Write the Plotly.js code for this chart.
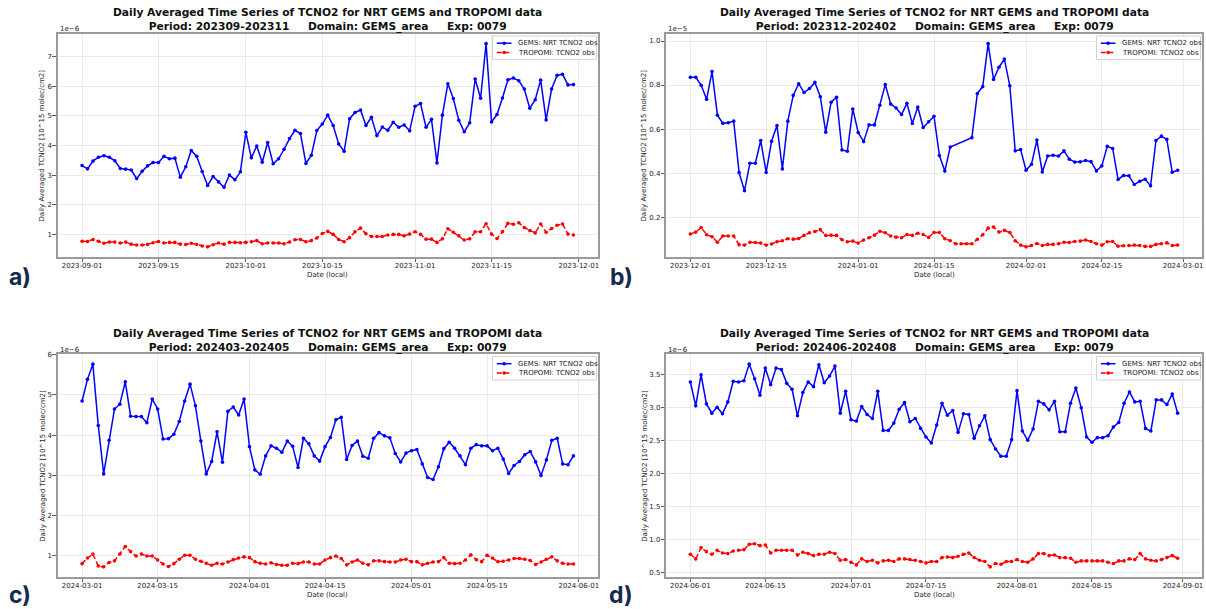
<!DOCTYPE html>
<html>
<head>
<meta charset="utf-8">
<script src="https://cdn.plot.ly/plotly-3.0.1.min.js"></script>
<style>
  html, body { margin: 0; padding: 0; background: #ffffff; }
  #chart { width: 1206px; height: 609px; }
</style>
</head>
<body>
<div id="chart"></div>
<script>
// ---- Daily averaged TCNO2 (values shown in units of the axis offset) ----

// a) 2023-09-01 .. 2023-11-30, units 1e-6
const gemsA = [3.32,3.21,3.47,3.60,3.65,3.60,3.48,3.22,3.20,3.17,
  2.88,3.13,3.31,3.42,3.42,3.63,3.55,3.57,2.93,3.28,
  3.83,3.63,3.12,2.65,2.95,2.77,2.59,3.00,2.84,3.11,
  4.44,3.58,3.98,3.43,4.10,3.38,3.55,3.87,4.23,4.51,
  4.40,3.39,3.67,4.50,4.72,5.02,4.67,4.05,3.80,4.90,
  5.11,5.19,4.67,4.95,4.33,4.62,4.51,4.78,4.61,4.69,
  4.49,5.32,5.41,4.61,4.88,3.41,5.02,6.08,5.58,4.85,
  4.46,4.76,6.24,5.59,7.43,4.79,5.04,5.60,6.21,6.27,
  6.18,5.90,5.25,5.54,6.20,4.86,5.90,6.36,6.40,6.04,
  6.05];
const tropA = [0.77,0.76,0.83,0.77,0.70,0.74,0.74,0.71,0.74,0.67,
  0.64,0.64,0.66,0.72,0.76,0.71,0.73,0.73,0.67,0.66,
  0.70,0.66,0.61,0.58,0.65,0.71,0.67,0.73,0.73,0.72,
  0.73,0.75,0.79,0.68,0.71,0.71,0.71,0.68,0.74,0.82,
  0.83,0.75,0.79,0.88,1.03,1.10,1.00,0.83,0.75,0.89,
  1.09,1.21,1.02,0.93,0.93,0.93,0.98,1.00,1.00,0.95,
  1.01,1.09,1.00,0.84,0.84,0.73,0.85,1.19,1.07,0.95,
  0.81,0.85,1.09,1.09,1.36,1.01,0.86,1.09,1.37,1.34,
  1.39,1.23,1.13,1.05,1.35,1.07,1.20,1.31,1.35,1.01,
  0.98];

// b) 2023-12-01 .. 2024-02-29, units 1e-5 (no GEMS average on 19-21 Jan)
const gemsB = [0.835,0.835,0.799,0.735,0.861,0.663,0.626,0.629,0.636,0.402,
  0.320,0.445,0.445,0.548,0.403,0.545,0.616,0.419,0.636,0.753,
  0.806,0.766,0.784,0.812,0.747,0.586,0.722,0.744,0.505,0.499,
  0.691,0.584,0.543,0.619,0.619,0.708,0.802,0.714,0.696,0.666,
  0.717,0.625,0.700,0.607,0.633,0.658,0.480,0.409,0.518,null,
  null,null,0.561,0.761,0.793,0.988,0.825,0.881,0.918,0.797,
  0.501,0.507,0.413,0.440,0.550,0.405,0.478,0.481,0.478,0.501,
  0.463,0.450,0.451,0.457,0.452,0.410,0.433,0.522,0.512,0.371,
  0.389,0.388,0.348,0.363,0.372,0.342,0.548,0.568,0.553,0.404,
  0.413];
const tropB = [0.123,0.132,0.153,0.120,0.111,0.086,0.114,0.114,0.114,0.075,
  0.073,0.086,0.085,0.082,0.073,0.078,0.088,0.093,0.102,0.100,
  0.103,0.117,0.129,0.135,0.143,0.117,0.118,0.117,0.097,0.088,
  0.091,0.082,0.096,0.106,0.118,0.136,0.129,0.114,0.109,0.106,
  0.121,0.117,0.127,0.121,0.108,0.130,0.130,0.102,0.093,0.079,
  0.079,0.079,0.079,0.099,0.120,0.150,0.155,0.132,0.140,0.130,
  0.093,0.073,0.065,0.071,0.080,0.071,0.076,0.076,0.079,0.086,
  0.085,0.089,0.091,0.096,0.089,0.079,0.073,0.088,0.089,0.068,
  0.070,0.071,0.073,0.071,0.067,0.067,0.076,0.079,0.083,0.071,
  0.073];

// c) 2024-03-01 .. 2024-05-31, units 1e-6
const gemsC = [4.85,5.39,5.77,4.24,3.03,3.87,4.65,4.77,5.33,4.47,
  4.46,4.46,4.31,4.90,4.65,3.90,3.91,4.02,4.34,4.85,
  5.27,4.73,3.85,3.03,3.34,4.08,3.32,4.59,4.70,4.50,
  4.90,3.71,3.13,3.02,3.48,3.73,3.67,3.57,3.85,3.72,
  3.19,3.92,3.78,3.48,3.35,3.71,3.94,4.38,4.44,3.39,
  3.74,3.85,3.47,3.42,3.92,4.06,3.98,3.93,3.54,3.33,
  3.55,3.61,3.64,3.28,2.94,2.89,3.21,3.66,3.82,3.67,
  3.48,3.26,3.67,3.76,3.73,3.73,3.61,3.67,3.40,3.04,
  3.24,3.34,3.51,3.59,3.33,2.99,3.38,3.87,3.92,3.28,
  3.26,3.48];
const tropC = [0.79,0.93,1.03,0.73,0.71,0.82,0.86,1.03,1.22,1.09,
  0.98,1.03,0.98,0.98,0.88,0.78,0.72,0.79,0.90,1.00,
  1.00,0.90,0.85,0.80,0.75,0.80,0.78,0.83,0.89,0.93,
  0.96,0.94,0.84,0.80,0.78,0.81,0.77,0.75,0.75,0.80,
  0.79,0.83,0.83,0.78,0.78,0.88,0.94,0.98,0.92,0.76,
  0.83,0.88,0.80,0.76,0.86,0.86,0.84,0.83,0.83,0.88,
  0.90,0.84,0.84,0.76,0.80,0.83,0.84,0.94,0.80,0.79,
  0.80,0.88,1.01,0.89,0.84,1.00,0.93,0.84,0.85,0.88,
  0.92,0.92,0.90,0.87,0.77,0.83,0.90,0.96,0.86,0.80,
  0.78,0.78];

// d) 2024-06-01 .. 2024-08-31, units 1e-6
const gemsD = [3.38,3.02,3.49,3.05,2.91,3.00,2.90,3.08,3.39,3.38,
  3.40,3.65,3.43,3.18,3.59,3.34,3.59,3.57,3.36,3.27,
  2.87,3.22,3.38,3.31,3.64,3.37,3.47,3.62,2.91,3.24,
  2.81,2.79,3.01,2.89,2.83,3.24,2.65,2.65,2.76,2.97,
  3.07,2.78,2.83,2.68,2.55,2.46,2.73,3.06,2.88,2.95,
  2.62,2.90,2.89,2.53,2.72,2.87,2.51,2.37,2.26,2.26,
  2.51,3.25,2.64,2.50,2.67,3.09,3.05,2.96,3.09,2.63,
  2.63,3.06,3.29,2.99,2.55,2.47,2.54,2.54,2.57,2.70,
  2.77,3.06,3.23,3.08,3.09,2.68,2.64,3.11,3.11,3.04,
  3.20,2.91];
const tropD = [0.78,0.71,0.88,0.82,0.78,0.84,0.80,0.79,0.83,0.84,
  0.85,0.93,0.94,0.91,0.92,0.80,0.84,0.84,0.84,0.84,
  0.77,0.81,0.79,0.76,0.78,0.78,0.81,0.79,0.69,0.70,
  0.66,0.62,0.71,0.67,0.69,0.65,0.68,0.69,0.67,0.71,
  0.71,0.70,0.69,0.67,0.65,0.67,0.67,0.73,0.74,0.73,
  0.75,0.78,0.80,0.73,0.69,0.67,0.59,0.64,0.63,0.67,
  0.67,0.70,0.67,0.66,0.71,0.79,0.79,0.76,0.77,0.73,
  0.73,0.72,0.66,0.68,0.68,0.68,0.68,0.68,0.66,0.64,
  0.68,0.68,0.71,0.70,0.79,0.71,0.69,0.68,0.70,0.73,
  0.76,0.72];

// first day of each period
const startDates = ['2023-09-01', '2023-12-01', '2024-03-01', '2024-06-01'];
const periods = ['202309-202311', '202312-202402', '202403-202405', '202406-202408'];
const offsetLabels = ['1e\u22126', '1e\u22125', '1e\u22126', '1e\u22126'];
const panelTags = ['a)', 'b)', 'c)', 'd)'];

// date tick labels
const xTicksA = ['2023-09-01','2023-09-15','2023-10-01','2023-10-15','2023-11-01','2023-11-15','2023-12-01'];
const xTicksB = ['2023-12-01','2023-12-15','2024-01-01','2024-01-15','2024-02-01','2024-02-15','2024-03-01'];
const xTicksC = ['2024-03-01','2024-03-15','2024-04-01','2024-04-15','2024-05-01','2024-05-15','2024-06-01'];
const xTicksD = ['2024-06-01','2024-06-15','2024-07-01','2024-07-15','2024-08-01','2024-08-15','2024-09-01'];

// value tick labels
const yTicksA = ['1','2','3','4','5','6','7'];
const yTicksB = ['0.2','0.4','0.6','0.8','1.0'];
const yTicksC = ['1','2','3','4','5','6'];
const yTicksD = ['0.5','1.0','1.5','2.0','2.5','3.0','3.5'];

const seriesNames = ['GEMS: NRT TCNO2 obs', 'TROPOMI: TCNO2 obs'];

// ---- page geometry (pixels from the top-left corner) ----
const W = 1206, H = 609;
const px = x => x / W;
const py = y => 1 - y / H;

const boxes = [
  { l: 57.5, r: 598,  t: 33.5, b: 257, yTitleX: 42.3,  tagX: 20,  tagY: 276.5 },
  { l: 666,  r: 1202, t: 33.5, b: 257, yTitleX: 644.3, tagX: 621, tagY: 276.5 },
  { l: 57.5, r: 598,  t: 354,  b: 577, yTitleX: 42.3,  tagX: 20,  tagY: 594.5 },
  { l: 666,  r: 1202, t: 354,  b: 577, yTitleX: 644.3, tagX: 621, tagY: 594.5 }
];

const panels = [
  { gems: gemsA, trop: tropA, xt: xTicksA, yt: yTicksA },
  { gems: gemsB, trop: tropB, xt: xTicksB, yt: yTicksB },
  { gems: gemsC, trop: tropC, xt: xTicksC, yt: yTicksC },
  { gems: gemsD, trop: tropD, xt: xTicksD, yt: yTicksD }
];

const DAY = 86400000;
function dayRange(start, n) {
  const t0 = Date.parse(start + 'T00:00:00Z');
  const out = [];
  for (let i = 0; i < n; i++) out.push(new Date(t0 + i * DAY).toISOString().slice(0, 10));
  return out;
}
function isoTime(ms) {
  return new Date(ms).toISOString().replace('T', ' ').slice(0, 19);
}

const FONT = 'DejaVu Sans, Verdana, sans-serif';
const BLUE = '#0000ff', RED = '#ff0000';
const RED_DASH = '5px,2.5px';
const GAP = '\u00a0\u00a0\u00a0\u00a0\u00a0';

const data = [];
const layout = {
  width: W, height: H,
  margin: { l: 0, r: 0, t: 0, b: 0 },
  paper_bgcolor: '#ffffff',
  plot_bgcolor: '#ffffff',
  showlegend: false,
  font: { family: FONT, size: 7, color: '#222222' },
  annotations: [],
  shapes: []
};

panels.forEach((p, i) => {
  const k = i === 0 ? '' : String(i + 1);
  const box = boxes[i];
  const dates = dayRange(startDates[i], p.gems.length);

  data.push({
    type: 'scatter', mode: 'lines+markers', name: seriesNames[0],
    x: dates, y: p.gems, xaxis: 'x' + k, yaxis: 'y' + k,
    connectgaps: true,
    line: { color: BLUE, width: 1.5 },
    marker: { color: BLUE, size: 3.6 }
  });
  data.push({
    type: 'scatter', mode: 'lines+markers', name: seriesNames[1],
    x: dates, y: p.trop, xaxis: 'x' + k, yaxis: 'y' + k,
    line: { color: RED, width: 1.5, dash: RED_DASH },
    marker: { color: RED, size: 3.6 }
  });

  // axis limits with a 5% margin around the data
  const t0 = Date.parse(dates[0] + 'T00:00:00Z');
  const t1 = Date.parse(dates[dates.length - 1] + 'T00:00:00Z');
  const tPad = (t1 - t0) * 0.05;
  const vals = p.gems.concat(p.trop).filter(v => v !== null);
  const vMin = Math.min(...vals), vMax = Math.max(...vals);
  const vPad = (vMax - vMin) * 0.05;

  const common = {
    showline: true, mirror: true, linecolor: '#9a9a9a', linewidth: 1.6,
    showgrid: true, gridcolor: '#ebebeb', gridwidth: 1,
    zeroline: false,
    ticks: 'outside', ticklen: 3.5, tickwidth: 0.8, tickcolor: '#333333',
    tickfont: { family: FONT, size: 7, color: '#222222' }
  };

  layout['xaxis' + k] = Object.assign({}, common, {
    type: 'date', anchor: 'y' + k,
    domain: [px(box.l), px(box.r)],
    range: [isoTime(t0 - tPad), isoTime(t1 + tPad)],
    tickmode: 'array', tickvals: p.xt, ticktext: p.xt,
    ticklabelstandoff: -3
  });
  layout['yaxis' + k] = Object.assign({}, common, {
    anchor: 'x' + k,
    domain: [py(box.b), py(box.t)],
    range: [vMin - vPad, vMax + vPad],
    tickmode: 'array', tickvals: p.yt.map(Number), ticktext: p.yt,
    ticklabelstandoff: -1
  });

  const cx = (box.l + box.r) / 2;
  const cy = (box.t + box.b) / 2;
  const ann = layout.annotations;

  // two-line bold title
  ann.push({
    xref: 'paper', yref: 'paper', x: px(cx), y: py(box.t - 13.6),
    xanchor: 'center', yanchor: 'middle', align: 'center', showarrow: false,
    text: '<b>Daily Averaged Time Series of TCNO2 for NRT GEMS and TROPOMI data</b><br>' +
          '<b>Period: ' + periods[i] + GAP + 'Domain: GEMS_area' + GAP + 'Exp: 0079</b>',
    font: { family: FONT, size: 10.7, color: '#111111' }
  });
  // axis titles
  ann.push({
    xref: 'paper', yref: 'paper', x: px(cx), y: py(box.b + 17.5),
    xanchor: 'center', yanchor: 'middle', showarrow: false,
    text: 'Date (local)', font: { family: FONT, size: 7, color: '#222222' }
  });
  ann.push({
    xref: 'paper', yref: 'paper', x: px(box.yTitleX), y: py(cy),
    xanchor: 'center', yanchor: 'middle', showarrow: false, textangle: -90,
    text: 'Daily Averaged TCNO2 [10^15 molec/cm2]',
    font: { family: FONT, size: 7, color: '#222222' }
  });
  // scale offset above the value axis
  ann.push({
    xref: 'paper', yref: 'paper', x: px(box.l), y: py(box.t - 4.5),
    xanchor: 'left', yanchor: 'middle', showarrow: false,
    text: offsetLabels[i], font: { family: FONT, size: 7, color: '#222222' }
  });
  // panel tag
  ann.push({
    xref: 'paper', yref: 'paper',
    x: px(box.tagX), y: py(box.tagY),
    xanchor: 'center', yanchor: 'middle', showarrow: false,
    text: '<b>' + panelTags[i] + '</b>',
    font: { family: 'Inter, Open Sans, sans-serif', size: 23, color: '#152a4c' }
  });

  // legend box in the upper-right corner
  const lx0 = box.r - 105.5, lx1 = box.r - 1.5;
  const ly0 = box.t + 2.5, ly1 = box.t + 26;
  layout.shapes.push({
    type: 'rect', xref: 'paper', yref: 'paper',
    x0: px(lx0), x1: px(lx1), y0: py(ly1), y1: py(ly0),
    line: { color: '#d4d4d4', width: 1 }, fillcolor: 'rgba(255,255,255,0.8)'
  });
  const rows = [
    { y: ly0 + 7.2, color: BLUE, dash: 'solid', label: seriesNames[0] },
    { y: ly0 + 16.5, color: RED, dash: RED_DASH, label: seriesNames[1] }
  ];
  rows.forEach(r => {
    layout.shapes.push({
      type: 'line', xref: 'paper', yref: 'paper',
      x0: px(lx0 + 4.3), x1: px(lx0 + 19), y0: py(r.y), y1: py(r.y),
      line: { color: r.color, width: 1.5, dash: r.dash }
    });
    layout.shapes.push({
      type: 'circle', xref: 'paper', yref: 'paper',
      x0: px(lx0 + 11.65 - 1.8), x1: px(lx0 + 11.65 + 1.8),
      y0: py(r.y + 1.8), y1: py(r.y - 1.8),
      line: { color: r.color, width: 0 }, fillcolor: r.color
    });
    ann.push({
      xref: 'paper', yref: 'paper', x: px(lx0 + 23.5), y: py(r.y),
      xanchor: 'left', yanchor: 'middle', showarrow: false,
      text: r.label, font: { family: FONT, size: 7, color: '#222222' }
    });
  });
});

Plotly.newPlot('chart', data, layout, { displayModeBar: false, staticPlot: true });
</script>
</body>
</html>
